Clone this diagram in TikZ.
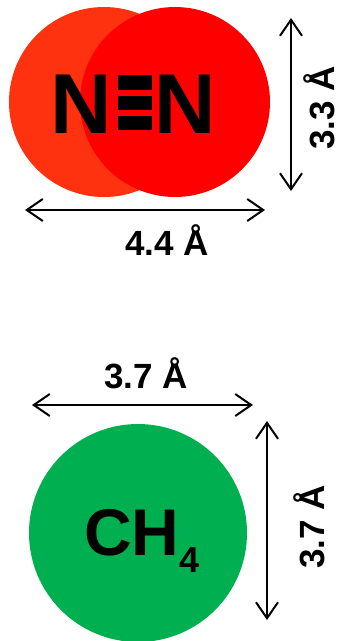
\documentclass[tikz,border=0pt]{standalone}
\usepackage{fontspec}
\setmainfont{Liberation Sans}
\usetikzlibrary{arrows.meta}
\definecolor{natom}{HTML}{FF3210}
\definecolor{natomb}{HTML}{FF0000}
\definecolor{methane}{HTML}{00B050}
\tikzset{
  dim/.style={line width=2pt, {Straight Barb[length=16pt,width=22pt,line width=2pt]}-{Straight Barb[length=16pt,width=22pt,line width=2pt]}},
  dimlabel/.style={inner sep=0pt, font=\fontsize{35}{35}\selectfont\bfseries},
  atomlabel/.style={inner sep=0pt, font=\fontsize{85}{85}\selectfont\bfseries, anchor=base},
  bondbar/.style={fill=black, draw=none}
}
\begin{document}
\begin{tikzpicture}[x=1pt,y=-1pt]
\useasboundingbox (0,0) rectangle (343,641);
% N2 molecule: two overlapping spheres
\fill[natom] (104,102) circle (95);
\fill[natomb] (175,102) circle (95);
\node[atomlabel] (n1) at (81,133) {N};
\node[atomlabel] (n2) at (185,133) {N};
% triple bond
\fill[bondbar] (118,75) rectangle (152,90);
\fill[bondbar] (118,96) rectangle (152,110);
\fill[bondbar] (118,116) rectangle (152,130);
% N2 dimensions
\coordinate (hA) at (291,18);
\coordinate (hB) at (291,191);
\draw[dim] (hA) -- (hB);
\node[dimlabel, rotate=90] (h) at (319,108) {3.3 Å};
\coordinate (wA) at (25,210);
\coordinate (wB) at (265,210);
\draw[dim] (wA) -- (wB);
\node[dimlabel] (w) at (167,240) {4.4 Å};
% CH4 molecule
\node[dimlabel] (cw) at (146,373) {3.7 Å};
\coordinate (cwA) at (32,405);
\coordinate (cwB) at (253,405);
\draw[dim] (cwA) -- (cwB);
\fill[methane] (138,533) circle (109);
\coordinate (chA) at (267,421);
\coordinate (chB) at (267,620);
\draw[dim] (chA) -- (chB);
\node[dimlabel, rotate=90] (ch) at (309,527) {3.7 Å};
\node[inner sep=0pt, anchor=base west, font=\fontsize{66}{66}\selectfont\bfseries] (ch4) at (84,555) {CH\raisebox{-17pt}{\fontsize{36}{36}\selectfont 4}};
\end{tikzpicture}
\end{document}
